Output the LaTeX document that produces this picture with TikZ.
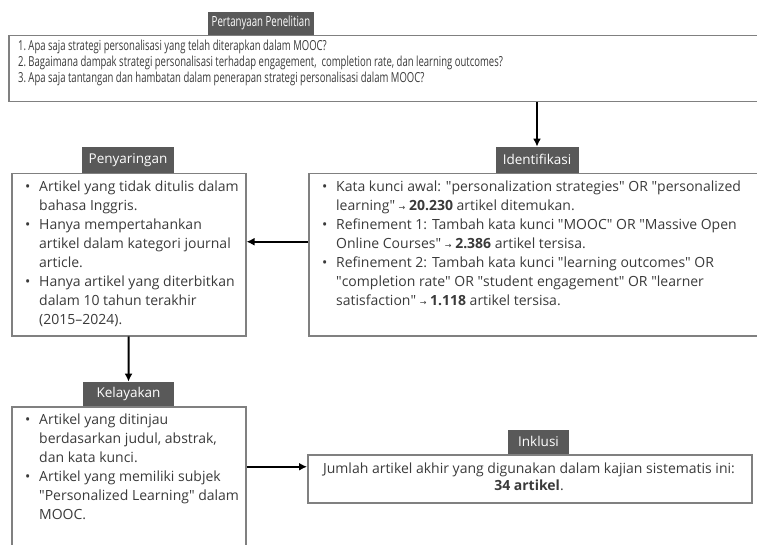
\documentclass[tikz,border=0pt]{standalone}
\usepackage{fontspec}
\setmainfont{Open Sans}
\newfontfamily\narrowfont{Open Sans}[FakeStretch=0.69]
\newfontfamily\arrowfont{DejaVu Sans}
\usetikzlibrary{arrows.meta}
\definecolor{headgray}{HTML}{595959}
\definecolor{linegray}{HTML}{808080}
\definecolor{txtgray}{HTML}{3A3A3A}
\newcommand{\bul}{\makebox[14pt][l]{\textbullet}}
\newcommand{\ind}{\hspace*{14pt}}
\newcommand{\ra}{{\arrowfont\footnotesize →}}
\newcommand{\qt}[1]{\textquotedbl#1\textquotedbl}
\tikzset{
  box/.style={draw=linegray, line width=1.5pt, anchor=north west, inner sep=0pt},
  head/.style={fill=headgray, text=white, anchor=south, inner sep=0pt, font=\fontsize{13.5}{15}\selectfont},
  txt/.style={anchor=north west, inner sep=0pt, align=left, text=txtgray, font=\fontsize{14}{19}\selectfont},
  arr/.style={line width=2pt, -{Latex[length=8pt,width=8pt]}}
}
\begin{document}
\begin{tikzpicture}[x=1pt,y=-1pt]
      \useasboundingbox (0,0) rectangle (757,545);
      % boxes
      \node[box, minimum width=770, minimum height=66] (quest) at (8,35) {};
      \node[box, minimum width=234, minimum height=162] (filter) at (11,173) {};
      \node[box, minimum width=460, minimum height=162] (ident) at (308,173) {};
      \node[box, minimum width=234, minimum height=160] (elig) at (11,406) {};
      \node[box, minimum width=444, minimum height=48] (incl) at (307,454) {};

      % headers
      \node[head, minimum width=106, minimum height=23, font=\narrowfont\fontsize{14}{15}\selectfont] (questhead) at (261,35) {Pertanyaan Penelitian};
      \node[head, minimum width=92, minimum height=26] (filterhead) at (128,173) {Penyaringan};
      \node[head, minimum width=83, minimum height=26] (identhead) at (537,173) {Identifikasi};
      \node[head, minimum width=91, minimum height=24] (elighead) at (128.5,406) {Kelayakan};
      \node[head, minimum width=61, minimum height=24] (inclhead) at (538.5,454) {Inklusi};

      % texts
      \node[txt, font=\narrowfont\fontsize{13.8}{16}\selectfont] (questtext) at (18,40) {1.\,Apa saja strategi personalisasi yang telah diterapkan dalam MOOC?\\
        2.\,Bagaimana dampak strategi personalisasi terhadap engagement,\ \ completion rate, dan learning outcomes?\\
        3.\,Apa saja tantangan dan hambatan dalam penerapan strategi personalisasi dalam MOOC?};
      \node[txt] (filtertext) at (25,181) {\bul Artikel yang tidak ditulis dalam\\ \ind bahasa Inggris.\\
        \bul Hanya mempertahankan\\ \ind artikel dalam kategori journal\\ \ind article.\\
        \bul Hanya artikel yang diterbitkan\\ \ind dalam 10 tahun terakhir\\ \ind (2015--2024).};
      \node[txt] (identtext) at (322,181) {\bul Kata kunci awal: \qt{personalization strategies} OR \qt{personalized\\
        \ind learning}\ \ra\ \textbf{20.230} artikel ditemukan.\\
        \bul Refinement 1: Tambah kata kunci \qt{MOOC} OR \qt{Massive Open\\
        \ind Online Courses}\ \ra\ \textbf{2.386} artikel tersisa.\\
        \bul Refinement 2: Tambah kata kunci \qt{learning outcomes} OR\\
        \ind \qt{completion rate} OR \qt{student engagement} OR \qt{learner\\
        \ind satisfaction}\ \ra\ \textbf{1.118} artikel tersisa.};
      \node[txt] (eligtext) at (25,414) {\bul Artikel yang ditinjau\\ \ind berdasarkan judul, abstrak,\\ \ind dan kata kunci.\\
        \bul Artikel yang memiliki subjek\\ \ind \qt{Personalized Learning} dalam\\ \ind MOOC.};
      \node[txt, anchor=north, align=center, font=\fontsize{14}{17}\selectfont] (incltext) at (529,463) {Jumlah artikel akhir yang digunakan dalam kajian sistematis ini:\\ \textbf{34 artikel}.};

      % arrows
      \draw[arr] (quest.south -| identhead.north) -- (identhead.north);
      \draw[arr] ([yshift=13pt]ident.west) -- ([yshift=13pt]filter.east);
      \draw[arr] (filter.south) -- (elighead.north);
      \coordinate (inclin) at ([yshift=12pt]incl.west);
      \draw[arr] (elig.east |- inclin) -- (inclin);
\end{tikzpicture}
\end{document}
